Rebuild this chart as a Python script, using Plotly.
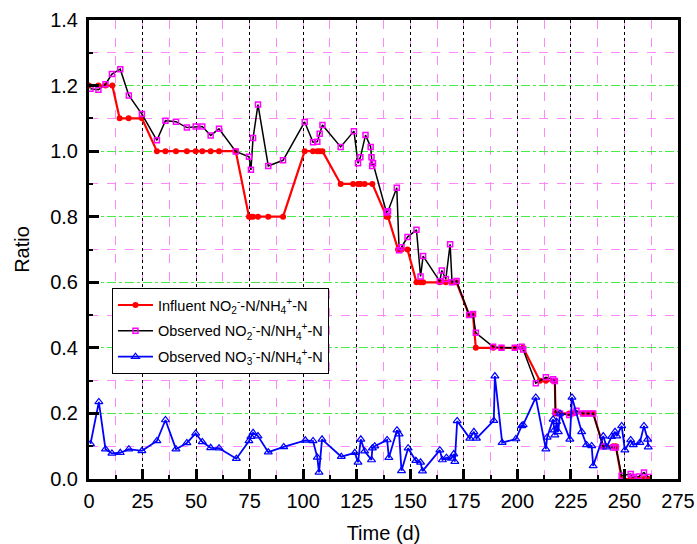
import plotly.graph_objects as go

# Influent NO2-/NH4+ ratio
inf_day = [0, 4.4, 7.7, 10.9, 14.3, 18.5, 24.7, 31.7, 35.7, 40.6, 45.7, 49.8, 52.9, 56.8, 60.7, 68.5,
           74.7, 75.6, 76.6, 78.9, 83.7, 90.6, 100.7, 104.6, 106.6, 107.7, 109.0,
           117.5, 123.3, 125.6, 126.7, 128.7, 132.3, 138.9, 139.6, 144.3, 145.9, 148.7,
           152.9, 154.8, 156.0, 163.8, 166.6, 169.3, 171.6, 177.5, 179.3,
           180.6, 188.7, 192.6, 198.8, 202.7, 210.5, 213.3, 216.7, 217.5,
           217.8, 219.9, 224.2, 226.0, 230.7, 233.0, 235.4, 240.1, 244.7, 246.0,
           248.7, 252.9, 253.8, 256.8, 259.1, 261.1]
inf_val = [1.2, 1.2, 1.2, 1.2, 1.1, 1.1, 1.1, 1.0, 1.0, 1.0, 1.0, 1.0, 1.0, 1.0, 1.0, 1.0,
           0.8, 0.8, 0.8, 0.8, 0.8, 0.8, 1.0, 1.0, 1.0, 1.0, 1.0,
           0.9, 0.9, 0.9, 0.9, 0.9, 0.9, 0.8, 0.8, 0.7, 0.7, 0.7,
           0.6, 0.6, 0.6, 0.6, 0.6, 0.6, 0.6, 0.5, 0.5,
           0.4, 0.4, 0.4, 0.4, 0.4, 0.3, 0.3, 0.3, 0.3,
           0.2, 0.2, 0.2, 0.2, 0.2, 0.2, 0.2, 0.1, 0.1, 0.1,
           0.0, 0.0, 0.0, 0.0, 0.0, 0.0]

# Observed NO2-/NH4+ ratio
obs2_day = [0.7, 4.4, 7.7, 10.7, 14.6, 18.6, 24.7, 31.7, 35.7, 40.6, 45.7, 49.8, 52.9, 56.8, 60.7, 68.5,
            74.7, 75.6, 76.6, 78.9, 83.7, 90.6, 100.7, 104.6, 106.6, 107.7, 109.0,
            117.5, 123.7, 125.6, 126.7, 129.1, 131.5, 131.9, 132.2, 132.6,
            138.9, 139.6, 143.7, 144.8, 145.9, 148.7, 152.9, 154.8, 156.0,
            163.8, 164.7, 166.6, 168.6, 169.5, 171.6, 177.5, 179.3, 180.6,
            188.7, 192.6, 198.8, 202.0, 202.7, 208.6, 213.3, 216.7, 217.5,
            217.8, 219.9, 224.2, 226.0, 227.6, 230.7, 233.0, 235.4, 240.1, 244.7, 246.0,
            248.7, 252.9, 253.8, 256.8, 259.1, 261.1]
obs2_val = [1.19, 1.187, 1.204, 1.235, 1.25, 1.17, 1.113, 1.033, 1.093, 1.09, 1.072, 1.075, 1.075, 1.048, 1.068, 0.999,
            0.983, 0.943, 1.04, 1.142, 0.955, 0.972, 1.089, 1.027, 1.029, 1.053, 1.08,
            1.013, 1.061, 0.963, 0.981, 1.049, 1.013, 0.981, 0.955, 0.963,
            0.813, 0.817, 0.888, 0.698, 0.707, 0.738, 0.76, 0.618, 0.68,
            0.603, 0.636, 0.61, 0.716, 0.6, 0.604, 0.5, 0.503, 0.446,
            0.403, 0.4, 0.4, 0.403, 0.395, 0.292, 0.31, 0.304, 0.299,
            0.205, 0.2, 0.195, 0.202, 0.208, 0.2, 0.2, 0.2, 0.099, 0.096, 0.096,
            0.01, 0.015, 0.006, 0.008, 0.02, 0.006]

# Observed NO3-/NH4+ ratio
obs3_day = [0.7, 4.6, 7.7, 10.7, 14.6, 18.6, 24.7, 31.7, 35.7, 40.6, 45.7, 49.8, 52.9, 56.8, 60.7, 68.8,
            74.7, 75.6, 76.6, 78.9, 83.7, 90.9, 101.0, 104.6, 106.6, 107.4, 108.8,
            117.8, 124.1, 125.6, 126.9, 128.7, 131.9, 132.3, 133.4,
            139.2, 140.0, 143.8, 144.8, 145.9, 149.0, 152.6, 154.8, 155.7,
            163.8, 165.0, 166.9, 169.2, 170.3, 170.8, 171.9, 177.8, 179.7, 180.9,
            189.0, 189.5, 192.9, 199.3, 202.0, 202.7, 208.6, 213.3, 213.9,
            216.7, 217.2, 217.5, 218.3, 219.1, 219.9, 224.5, 225.5, 230.0, 232.3, 234.7, 235.4,
            240.1, 241.7, 244.0, 245.6, 246.4, 248.7, 250.2, 252.9, 254.1, 257.2, 259.1, 260.8, 261.1]
obs3_val = [0.107, 0.235, 0.091, 0.078, 0.08, 0.091, 0.086, 0.116, 0.18, 0.091, 0.11, 0.139, 0.113, 0.095, 0.094, 0.062,
            0.116, 0.129, 0.141, 0.131, 0.082, 0.098, 0.118, 0.116, 0.066, 0.02, 0.121,
            0.068, 0.08, 0.051, 0.121, 0.085, 0.058, 0.094, 0.1,
            0.119, 0.065, 0.149, 0.137, 0.025, 0.094, 0.056, 0.051, 0.024,
            0.088, 0.058, 0.065, 0.063, 0.076, 0.053, 0.177, 0.124, 0.144, 0.124,
            0.178, 0.314, 0.111, 0.122, 0.162, 0.165, 0.249, 0.091, 0.127,
            0.182, 0.149, 0.134, 0.175, 0.144, 0.2, 0.121, 0.249, 0.144, 0.104, 0.101, 0.04,
            0.131, 0.097, 0.129, 0.144, 0.131, 0.162, 0.088, 0.119, 0.104, 0.111, 0.162, 0.121, 0.097]

x_ticks = list(range(0, 276, 25))

FONT = "Liberation Sans, Arial, sans-serif"

fig = go.Figure()
fig.add_trace(go.Scatter(
    x=inf_day, y=inf_val, mode="lines+markers", legendgroup="a",
    name="Influent NO<sub>2</sub><sup>-</sup>-N/NH<sub>4</sub><sup>+</sup>-N",
    line=dict(color="#ff0000", width=2.2),
    marker=dict(symbol="circle", size=6, color="#ff0000")))
fig.add_trace(go.Scatter(
    x=obs2_day, y=obs2_val, mode="lines+markers", legendgroup="b",
    name="Observed NO<sub>2</sub><sup>-</sup>-N/NH<sub>4</sub><sup>+</sup>-N",
    line=dict(color="#000000", width=1.5),
    marker=dict(symbol="square-open", size=5, color="#ff00ff", line=dict(width=1.5, color="#ff00ff"))))
fig.add_trace(go.Scatter(
    x=obs3_day, y=obs3_val, mode="lines+markers", legendgroup="c",
    name="Observed NO<sub>3</sub><sup>-</sup>-N/NH<sub>4</sub><sup>+</sup>-N",
    line=dict(color="#0000ff", width=1.8),
    marker=dict(symbol="triangle-up-open", size=7, color="#0000ff", line=dict(width=1.2, color="#0000ff"))))

fig.update_layout(
    width=697, height=544,
    margin=dict(l=89, r=19, t=20, b=65),
    paper_bgcolor="white", plot_bgcolor="white",
    font=dict(family=FONT, color="black"),
    showlegend=True,
    legend=dict(x=0.039, y=0.416, xanchor="left", yanchor="top",
                bgcolor="white", bordercolor="black", borderwidth=1,
                font=dict(size=14.5, family=FONT), tracegroupgap=4,
                traceorder="grouped", itemwidth=35),
    xaxis=dict(range=[0, 275], tickvals=x_ticks, ticktext=[str(v) for v in x_ticks],
               automargin=False,
               showline=True, linecolor="black", linewidth=3, mirror=True,
               ticks="inside", ticklen=10, tickwidth=2.5, tickcolor="black",
               tickfont=dict(size=20, family=FONT), ticklabelstandoff=2,
               showgrid=True, gridcolor="#000000", gridwidth=1, griddash="dot",
               minor=dict(dtick=12.5, tick0=0, ticks="inside", ticklen=4, tickwidth=2,
                          tickcolor="black", showgrid=True, gridcolor="#ff88ff", griddash="dash", gridwidth=1),
               zeroline=False,
               title=dict(text="Time (d)", font=dict(size=20, family=FONT), standoff=15)),
    yaxis=dict(range=[0, 1.4], dtick=0.2, tick0=0, tickformat=".1f",
               automargin=False,
               showline=True, linecolor="black", linewidth=3, mirror=True,
               ticks="inside", ticklen=10, tickwidth=2.5, tickcolor="black",
               tickfont=dict(size=20, family=FONT), ticklabelstandoff=4,
               showgrid=True, gridcolor="#44ee44", gridwidth=1, griddash="dashdot",
               minor=dict(dtick=0.1, tick0=0, ticks="inside", ticklen=4, tickwidth=2,
                          tickcolor="black", showgrid=True, gridcolor="#ff88ff", griddash="dash", gridwidth=1),
               zeroline=False,
               title=dict(text="Ratio", font=dict(size=20, family=FONT), standoff=16)),
)

fig.write_html("out.html")
